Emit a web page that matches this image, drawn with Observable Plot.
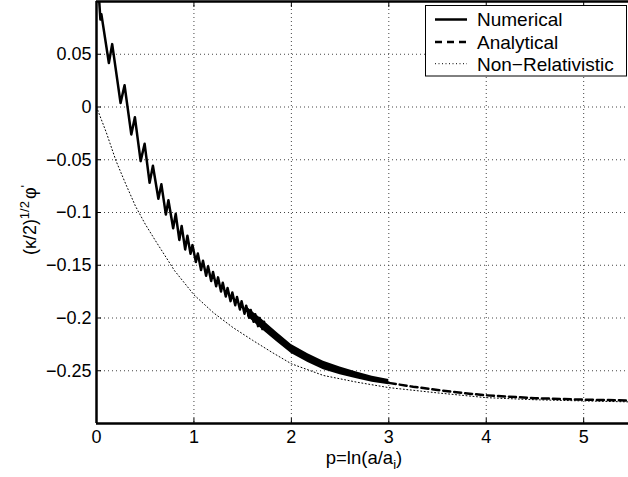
<!DOCTYPE html>
<html><head><meta charset="utf-8">
<script src="https://cdn.jsdelivr.net/npm/d3@7"></script>
<script src="https://cdn.jsdelivr.net/npm/@observablehq/plot@0.6"></script>
<style>
html,body{margin:0;padding:0;background:#fff;}
#chart{width:628px;height:477px;overflow:hidden;}
</style></head><body><div id="chart"></div>
<script>
// Numerical solution (visible oscillations), vertices
const numP = [0.000,0.040,0.050,0.127,0.161,0.247,0.288,0.357,0.394,0.453,0.494,0.545,0.579,0.635,0.666,0.712,0.738,0.787,0.813,0.850,0.874,0.910,0.933,0.965,0.985,1.020,1.040,1.073,1.093,1.125,1.145,1.177,1.196,1.228,1.247,1.278,1.296,1.327,1.345,1.376,1.394,1.424,1.442,1.472,1.489,1.519,1.536,1.566,1.583,1.612,1.629,1.658,1.675,1.703,1.720];
const numY = [0.140,0.083,0.088,0.0417,0.0596,0.0038,0.0206,-0.026,-0.0097,-0.0513,-0.0349,-0.0718,-0.0557,-0.087,-0.0733,-0.102,-0.0884,-0.115,-0.1013,-0.126,-0.1127,-0.135,-0.1221,-0.1391,-0.1309,-0.1470,-0.1388,-0.1545,-0.1458,-0.1600,-0.1510,-0.1650,-0.1563,-0.1700,-0.1615,-0.1748,-0.1666,-0.1797,-0.1715,-0.1840,-0.1759,-0.1880,-0.1801,-0.1919,-0.1842,-0.1959,-0.1883,-0.1998,-0.1924,-0.2036,-0.1964,-0.2077,-0.2000,-0.2105,-0.2036];
// Numerical solution, dense oscillation band (envelope)
const bandP  = [1.55,1.70,1.85,2.00,2.17,2.33,2.50,2.67,2.83,3.00];
const bandHi = [-0.1900,-0.2015,-0.2135,-0.2250,-0.2338,-0.2410,-0.2465,-0.2513,-0.2551,-0.2583];
const bandLo = [-0.1985,-0.2109,-0.2225,-0.2336,-0.2422,-0.2490,-0.2539,-0.2577,-0.2609,-0.2633];
// Analytical
const anaP = [3.0,3.25,3.5,3.75,4.0,4.5,5.0,5.46];
const anaY = [-0.2615,-0.2652,-0.2682,-0.2710,-0.2733,-0.2760,-0.2774,-0.2782];
// Non-Relativistic
const nrP = [0,0.1,0.2,0.3,0.4,0.5,0.6,0.8,1.0,1.2,1.4,1.6,1.8,2.0,2.33,2.67,3.0,3.5,4.0,4.5,5.0,5.46];
const nrY = [0,-0.024,-0.051,-0.073,-0.094,-0.111,-0.126,-0.155,-0.178,-0.195,-0.209,-0.221,-0.2325,-0.2434,-0.2545,-0.2608,-0.266,-0.271,-0.2755,-0.2775,-0.2786,-0.2795];

const xTicks = [0,1,2,3,4,5];
const yTicks = [-0.25,-0.2,-0.15,-0.1,-0.05,0,0.05];
const xDomain = [0, 5.46];
const yDomain = [-0.3, 0.1];
const seriesNames = ["Numerical","Analytical","Non\u2212Relativistic"];

const num = numP.map((p,i)=>({p, y:numY[i]}));
const band = bandP.map((p,i)=>({p, lo:bandLo[i], hi:bandHi[i]}));
const ana = anaP.map((p,i)=>({p, y:anaY[i]}));
const nr = nrP.map((p,i)=>({p, y:nrY[i]}));
const fmt = d3.format("~g");

const plot = Plot.plot({
  width: 628, height: 477,
  marginLeft: 96, marginRight: 0, marginTop: 1, marginBottom: 54,
  style: {fontFamily: "'Liberation Sans', Arial, sans-serif", fontSize: "18px", background: "#fff", color: "#000"},
  x: {domain: xDomain, label: null},
  y: {domain: yDomain, label: null},
  marks: [
    Plot.gridX(xTicks, {stroke: "#444", strokeOpacity: 1, strokeWidth: 1, strokeDasharray: "1,3"}),
    Plot.gridY(yTicks, {stroke: "#444", strokeOpacity: 1, strokeWidth: 1, strokeDasharray: "1,3"}),
    Plot.line(nr, {x: "p", y: "y", stroke: "#000", strokeWidth: 1, strokeDasharray: "1,2.5"}),
    Plot.areaY(band, {x: "p", y1: "lo", y2: "hi", fill: "#000"}),
    Plot.line(num, {x: "p", y: "y", stroke: "#000", strokeWidth: 2.5, clip: true}),
    Plot.line(ana, {x: "p", y: "y", stroke: "#000", strokeWidth: 2.5, strokeDasharray: "7,4"}),
    Plot.ruleX([xDomain[0]], {stroke: "#000", strokeWidth: 2.5}),
    Plot.ruleY(yDomain, {stroke: "#000", strokeWidth: 2.5}),
    Plot.axisX({ticks: xTicks, tickSize: 0, tickPadding: 7, tickFormat: fmt}),
    Plot.axisX({ticks: xTicks, tickSize: -5, tickFormat: () => ""}),
    Plot.axisX({anchor: "top", ticks: xTicks, tickSize: -5, tickFormat: () => ""}),
    Plot.axisY({ticks: yTicks, tickSize: 0, tickPadding: 5, tickFormat: fmt}),
    Plot.axisY({ticks: yTicks, tickSize: -5, tickFormat: () => ""})
  ]
});
document.getElementById("chart").appendChild(plot);

const svg = d3.select(plot);
// y label
const yl = svg.append("text").attr("transform", "translate(36,220) rotate(-90)")
  .attr("text-anchor", "middle").attr("fill", "#000").style("font-size", "18px");
yl.append("tspan").text("(\u03BA/2)");
yl.append("tspan").attr("dy", -7).style("font-size", "13px").text("1/2");
yl.append("tspan").attr("dy", 7).attr("dx", 2).text("\u03C6");
yl.append("tspan").attr("dy", -6).style("font-size", "13px").text("'");
// x label
const xl = svg.append("text").attr("x", 364).attr("y", 464)
  .attr("text-anchor", "middle").attr("fill", "#000").style("font-size", "18.5px");
xl.append("tspan").text("p=ln(a/a");
xl.append("tspan").attr("dy", 5).style("font-size", "13px").text("i");
xl.append("tspan").attr("dy", -5).text(")");
// legend
const lg = svg.append("g");
lg.append("rect").attr("x", 425.5).attr("y", 5.5).attr("width", 201).attr("height", 70.5)
  .attr("fill", "#fff").attr("stroke", "#000").attr("stroke-width", 1);
const rows = [19.5, 42, 63.7];
const dashes = [null, "7,5", "1,2.5"];
const widths = [2.5, 2.5, 1];
seriesNames.forEach((name, i) => {
  lg.append("line").attr("x1", 435).attr("x2", 467).attr("y1", rows[i]).attr("y2", rows[i])
    .attr("stroke", "#000").attr("stroke-width", widths[i]).attr("stroke-dasharray", dashes[i]);
  lg.append("text").attr("x", 477).attr("y", rows[i] + 6.8).attr("fill", "#000")
    .attr("text-anchor", "start").style("font-size", "19px").text(name);
});
</script></body></html>
